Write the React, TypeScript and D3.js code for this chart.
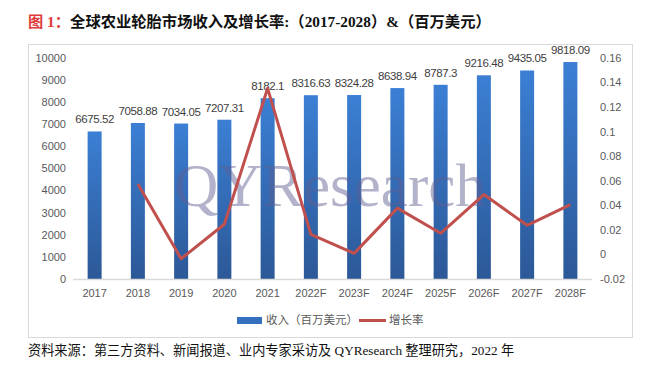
import React from "react";
import * as d3 from "d3";

const categories = ["2017","2018","2019","2020","2021","2022F","2023F","2024F","2025F","2026F","2027F","2028F"];
const revenue = [6675.52,7058.88,7034.05,7207.31,8182.1,8316.63,8324.28,8638.94,8787.3,9216.48,9435.05,9818.09];
const revenueLabels = ["6675.52","7058.88","7034.05","7207.31","8182.1","8316.63","8324.28","8638.94","8787.3","9216.48","9435.05","9818.09"];
const growth = [null,0.0574,-0.0035,0.0246,0.1353,0.0164,0.0009,0.0377,0.0172,0.0488,0.0237,0.0406];
const leftTicks = [0,1000,2000,3000,4000,5000,6000,7000,8000,9000,10000];
const rightTicks = [-0.02,0,0.02,0.04,0.06,0.08,0.1,0.12,0.14,0.16];
const rightTickLabels = ["-0.02","0","0.02","0.04","0.06","0.08","0.1","0.12","0.14","0.16"];

export default function App() {
  const W = 671, H = 379;
  const x0 = 73, x1 = 592, yTop = 58, yBot = 279;
  const x = d3.scaleBand().domain(categories).range([x0, x1]).paddingInner(0).paddingOuter(0);
  const yL = d3.scaleLinear().domain([0, 10000]).range([yBot, yTop]);
  const yR = d3.scaleLinear().domain([-0.02, 0.16]).range([yBot, yTop]);
  const barW = 14;
  const pts = categories.map((c, i) => ({ c, v: growth[i] })).filter(d => d.v !== null) as { c: string; v: number }[];
  const line = d3.line<{ c: string; v: number }>()
    .x(d => (x(d.c) as number) + x.bandwidth() / 2)
    .y(d => yR(d.v));
  const axisFont = "'Liberation Sans', Arial, 'Noto Sans CJK SC', sans-serif";
  const gray = "#595959";
  return (
    <svg width={W} height={H} style={{ position: "absolute", left: 0, top: 0, background: "#fff" }}>
      <defs>
        <linearGradient id="barGrad" x1="0" y1="0" x2="0" y2="1">
          <stop offset="0%" stopColor="#3b7fd4" />
          <stop offset="100%" stopColor="#2c5897" />
        </linearGradient>
      </defs>
      <text x={28} y={27} fontSize={15.3} fontWeight="bold" fontFamily="'Liberation Serif', 'Noto Sans CJK SC', serif">
        <tspan fill="#e03c3c">图 1：</tspan>
        <tspan fill="#111">全球农业轮胎市场收入及增长率:（2017-2028）&amp;（百万美元）</tspan>
      </text>
      <rect x={28.5} y={44.5} width={604} height={293} fill="#fff" stroke="#d9d9d9" strokeWidth={1} />
      {leftTicks.map(t => (
        <text key={"l" + t} x={66} y={yL(t)} dy="0.35em" textAnchor="end" fontSize={11} fill={gray} fontFamily={axisFont}>{t}</text>
      ))}
      {rightTicks.map((t, i) => (
        <text key={"r" + t} x={600} y={yR(t)} dy="0.35em" textAnchor="start" fontSize={11} fill={gray} fontFamily={axisFont}>{rightTickLabels[i]}</text>
      ))}
      {categories.map((c, i) => {
        const cx = (x(c) as number) + x.bandwidth() / 2;
        return (
          <g key={c}>
            <rect x={cx - barW / 2} y={yL(revenue[i])} width={barW} height={yBot - yL(revenue[i])} fill="url(#barGrad)" />
            <text x={cx} y={yL(revenue[i]) - 8} textAnchor="middle" fontSize={11.5} letterSpacing={-0.4} fill="#404040" fontFamily={axisFont}>{revenueLabels[i]}</text>
            <text x={cx} y={297} textAnchor="middle" fontSize={11} fill={gray} fontFamily={axisFont}>{c}</text>
          </g>
        );
      })}
      <line x1={x0} x2={x1} y1={yBot + 0.5} y2={yBot + 0.5} stroke="#d9d9d9" strokeWidth={1.5} />
      <text x={330} y={206} textAnchor="middle" fontSize={61} fontFamily="'Liberation Serif', 'Times New Roman', serif" fill="#5f5f92" fillOpacity={0.48}>QYResearch</text>
      <path d={line(pts) || ""} fill="none" stroke="#c0504d" strokeWidth={3} strokeLinejoin="round" />
      <rect x={237} y={317} width={25} height={7} fill="#3470c0" />
      <text x={266} y={320} dy="0.35em" fontSize={11.5} fill={gray} fontFamily={axisFont}>收入（百万美元）</text>
      <line x1={359} x2={386} y1={320.5} y2={320.5} stroke="#c0504d" strokeWidth={3} />
      <text x={389} y={320} dy="0.35em" fontSize={11.5} fill={gray} fontFamily={axisFont}>增长率</text>
      <text x={28} y={355} fontSize={13.2} fill="#111" fontFamily="'Liberation Serif', 'Noto Sans CJK SC', serif">资料来源：第三方资料、新闻报道、业内专家采访及 QYResearch 整理研究，2022 年</text>
    </svg>
  );
}
